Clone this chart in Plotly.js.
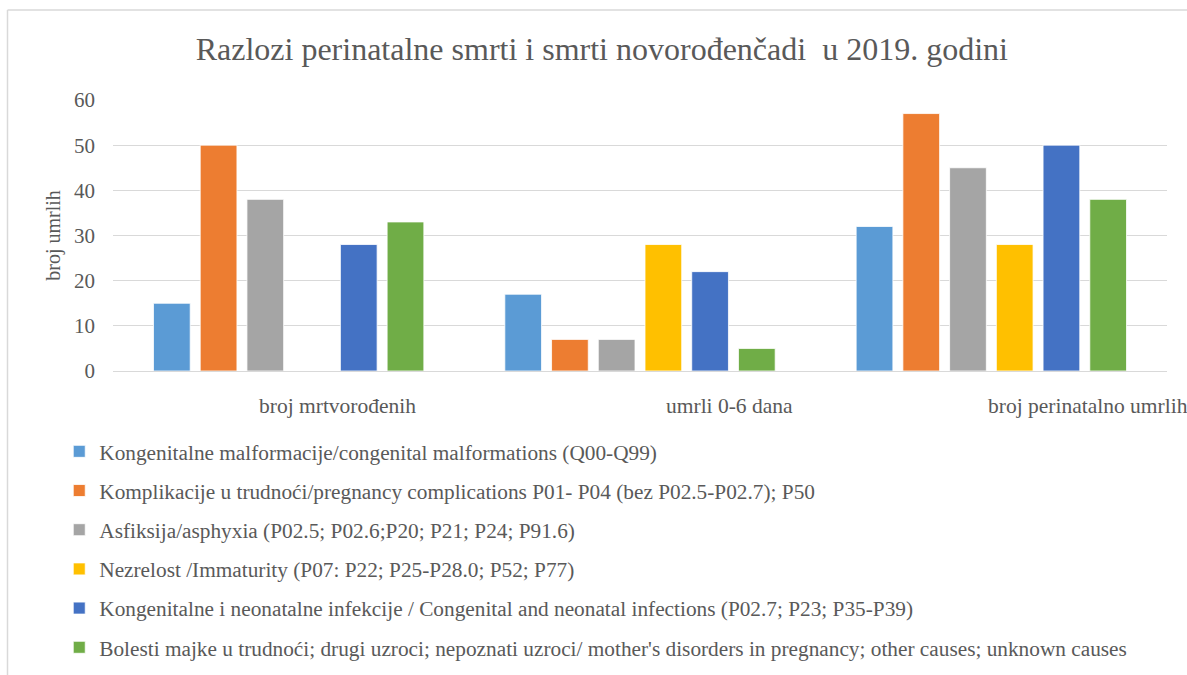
<!DOCTYPE html>
<html>
<head>
<meta charset="utf-8">
<script src="https://cdn.plot.ly/plotly-3.0.1.min.js"></script>
<style>
  html, body { margin: 0; padding: 0; background: #ffffff; }
  #chart { width: 1187px; height: 675px; }
</style>
</head>
<body>
<div id="chart"></div>
<script>
const categories = ["broj mrtvorođenih", "umrli 0-6 dana", "broj perinatalno umrlih"];
const seriesNames = [
  "Kongenitalne malformacije/congenital malformations (Q00-Q99)",
  "Komplikacije u trudnoći/pregnancy complications P01- P04 (bez P02.5-P02.7); P50",
  "Asfiksija/asphyxia (P02.5; P02.6;P20; P21; P24; P91.6)",
  "Nezrelost /Immaturity (P07: P22; P25-P28.0; P52; P77)",
  "Kongenitalne i neonatalne infekcije / Congenital and neonatal infections (P02.7; P23; P35-P39)",
  "Bolesti majke u trudnoći; drugi uzroci; nepoznati uzroci/ mother's disorders in pregnancy; other causes; unknown causes"
];
const malformations = [15, 17, 32];
const complications = [50, 7, 57];
const asphyxia = [38, 7, 45];
const immaturity = [null, 28, 28];
const infections = [28, 22, 50];
const otherCauses = [33, 5, 38];
const yTickVals = [0, 10, 20, 30, 40, 50, 60];
const colors = ["#5B9BD5", "#ED7D31", "#A5A5A5", "#FFC000", "#4472C4", "#70AD47"];
const catLabelShift = [49, 89, 97];

const seriesValues = [malformations, complications, asphyxia, immaturity, infections, otherCauses];
const FONT = "Liberation Serif";
const TXT = "#595959";

const traces = seriesValues.map((vals, i) => ({
  type: "bar",
  name: seriesNames[i],
  x: categories,
  y: vals,
  legendgroup: "g" + i,
  marker: { color: colors[i], line: { color: "#ffffff", width: 0.8 } },
  hoverinfo: "x+y+name"
}));

const annotations = categories.map((c, i) => ({
  x: c, xref: "x", y: 0, yref: "paper",
  yanchor: "top", xanchor: "center",
  yshift: -21, xshift: catLabelShift[i],
  text: c, showarrow: false,
  font: { family: FONT, size: 21.5, color: TXT }
}));

const layout = {
  width: 1187, height: 675,
  paper_bgcolor: "#ffffff", plot_bgcolor: "#ffffff",
  margin: { l: 113, r: 20, t: 100, b: 304, autoexpand: false },
  title: {
    text: "Razlozi perinatalne smrti i smrti novorođenčadi  u 2019. godini",
    x: 0.507, xanchor: "center", xref: "container",
    y: 0.927, yanchor: "middle", yref: "container",
    font: { family: FONT, size: 32, color: TXT }
  },
  barmode: "group",
  bargap: 0.202,
  bargroupgap: 0.214,
  xaxis: {
    type: "category",
    range: [-0.5, 2.5],
    showticklabels: false,
    showgrid: false,
    showline: true, linecolor: "#d9d9d9", linewidth: 1.3,
    ticks: "",
    fixedrange: true
  },
  yaxis: {
    range: [0, 60],
    tickvals: yTickVals,
    ticktext: yTickVals.map(String),
    showgrid: true, gridcolor: "#d9d9d9", gridwidth: 1.3,
    zeroline: false,
    showline: false,
    ticks: "",
    ticklabelstandoff: 17,
    tickfont: { family: FONT, size: 21, color: TXT },
    title: { text: "broj umrlih", standoff: 8, font: { family: FONT, size: 20, color: TXT } },
    fixedrange: true
  },
  showlegend: true,
  legend: {
    orientation: "v",
    x: -0.051, xanchor: "left",
    y: 0.3615, yanchor: "top", yref: "container",
    traceorder: "grouped",
    tracegroupgap: 8.5,
    font: { family: FONT, size: 21.3, color: TXT },
    bgcolor: "rgba(0,0,0,0)"
  },
  annotations: annotations,
  shapes: [
    { type: "line", xref: "paper", yref: "paper",
      x0: (7.5 - 113) / 1054, x1: 1.2, y0: (371 - 10) / 271, y1: (371 - 10) / 271,
      line: { color: "#d9d9d9", width: 1.5 } },
    { type: "line", xref: "paper", yref: "paper",
      x0: (7.5 - 113) / 1054, x1: (7.5 - 113) / 1054, y0: (371 - 10) / 271, y1: -1.2,
      line: { color: "#d9d9d9", width: 1.5 } }
  ]
};

Plotly.newPlot("chart", traces, layout, { displayModeBar: false, responsive: false });
</script>
</body>
</html>
